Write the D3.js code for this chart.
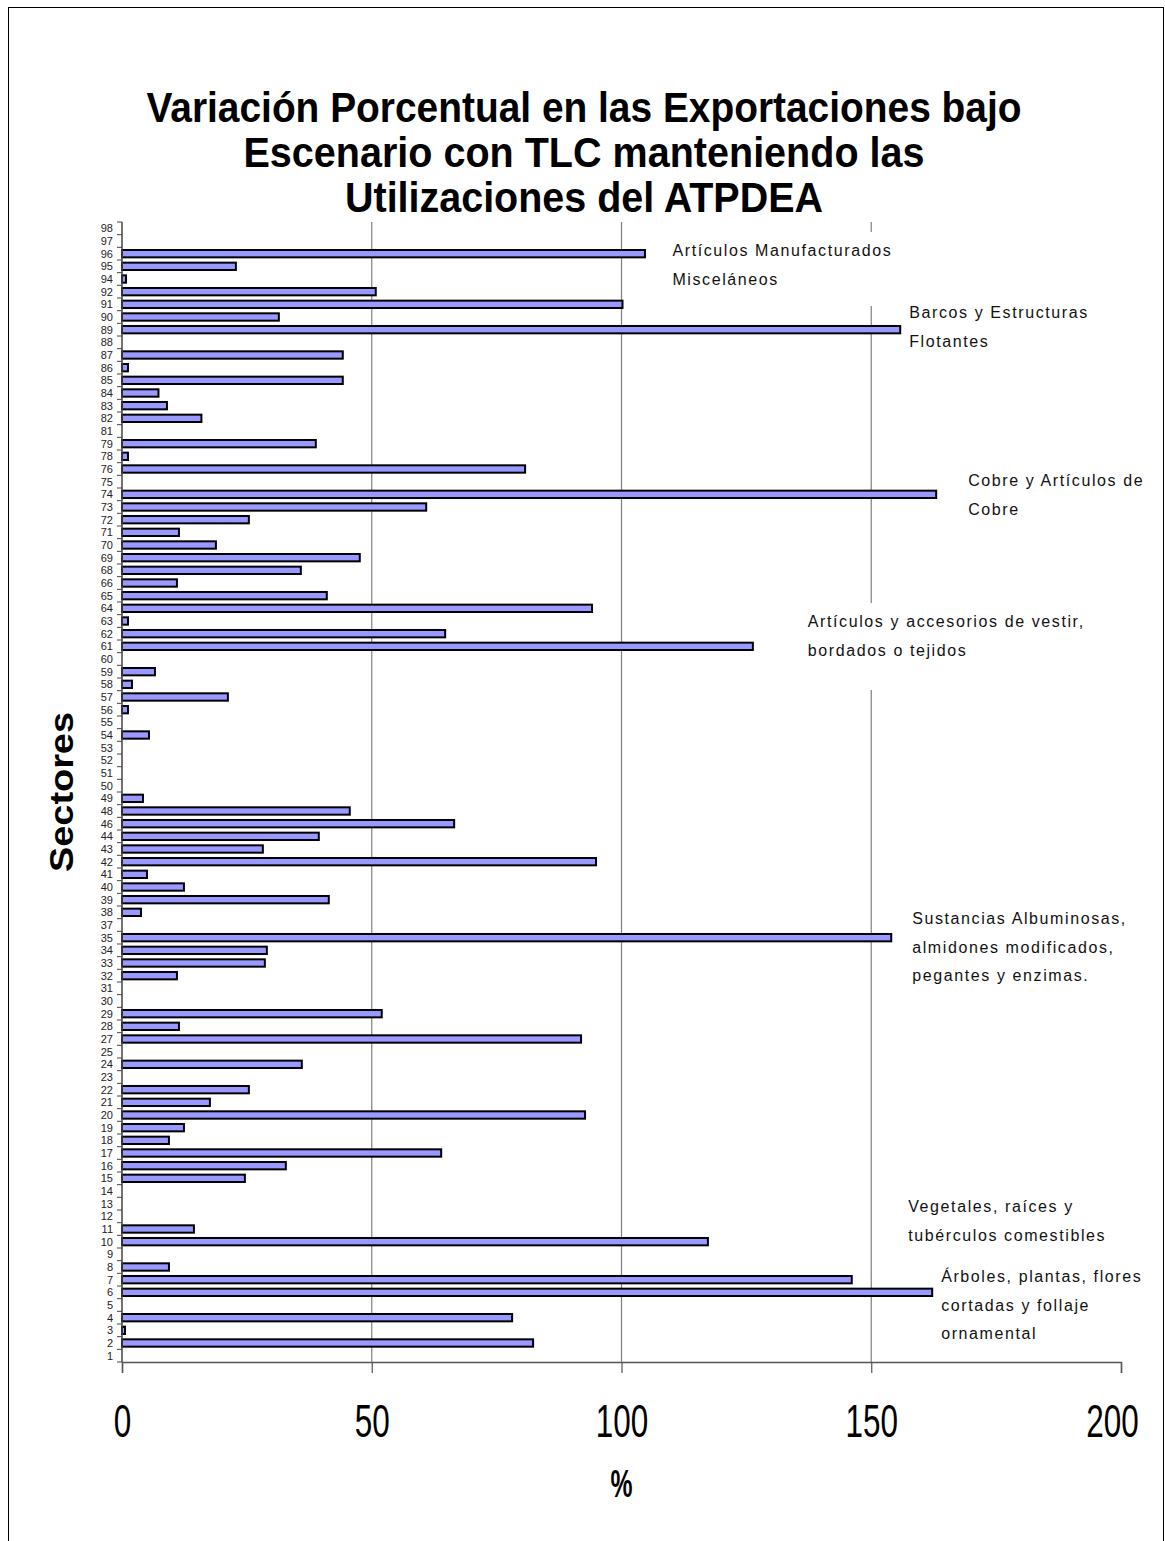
<!DOCTYPE html>
<html>
<head>
<meta charset="utf-8">
<script src="https://cdn.jsdelivr.net/npm/d3@7"></script>
<style>
  body { margin: 0; background: #fff; }
  svg { display: block; }
</style>
</head>
<body>
<svg id="chart" width="1165" height="1541"></svg>
<script>
// Sector codes, listed from the top of the axis to the bottom
const sectors = [98,97,96,95,94,92,91,90,89,88,87,86,85,84,83,82,81,79,78,76,75,74,73,72,71,70,69,68,66,65,64,63,62,61,60,59,58,57,56,55,54,53,52,51,50,49,48,46,44,43,42,41,40,39,38,37,35,34,33,32,31,30,29,28,27,25,24,23,22,21,20,19,18,17,16,15,14,13,12,11,10,9,8,7,6,5,4,3,2,1];

// Percentage change in exports for each sector (same order as sectors)
const values = [0,0,104.7,22.8,0.8,50.8,100.2,31.4,155.8,0,44.2,1.2,44.2,7.3,9.0,15.9,0,38.8,1.2,80.7,0,163.0,60.9,25.4,11.4,18.8,47.6,35.8,11.0,41.0,94.1,1.2,64.7,126.3,0,6.6,2.0,21.2,1.2,0,5.4,0,0,0,0,4.2,45.6,66.5,39.4,28.2,94.9,5.0,12.4,41.4,3.8,0,154.0,29.0,28.6,11.0,0,0,52.0,11.4,91.9,0,36.0,0,25.4,17.6,92.7,12.4,9.4,63.9,32.8,24.6,0,0,0,14.4,117.3,0,9.4,146.1,162.2,0,78.1,0.6,82.3,0];

const xTicks = [0, 50, 100, 150, 200];
const gridValues = [50, 100, 150];

const titleLines = [
  "Variación Porcentual en las Exportaciones bajo",
  "Escenario con TLC manteniendo las",
  "Utilizaciones del ATPDEA"
];
const xTitle = "%";
const yTitle = "Sectores";

// Callout texts naming the sectors with the largest changes
const callouts = [
  ["Artículos Manufacturados", "Misceláneos"],
  ["Barcos y Estructuras", "Flotantes"],
  ["Cobre y Artículos de", "Cobre"],
  ["Artículos y accesorios de vestir,", "bordados o tejidos"],
  ["Sustancias Albuminosas,", "almidones modificados,", "pegantes y enzimas."],
  ["Vegetales, raíces y", "tubérculos comestibles"],
  ["Árboles, plantas, flores", "cortadas y follaje", "ornamental"]
];

const svg = d3.select("#chart");
const H = 1541;
const plot = { left: 122, right: 1121, top: 222, bottom: 1362 };
const narrow = "'Liberation Sans Narrow', 'Arial Narrow', 'Liberation Sans', Arial, sans-serif";
const sans = "'Liberation Sans', Arial, sans-serif";

// Outer frame
svg.append("rect")
  .attr("x", 8.5).attr("y", 7.5)
  .attr("width", 1155).attr("height", H)
  .attr("fill", "#fff").attr("stroke", "#000").attr("stroke-width", 1);

const x = d3.scaleLinear().domain([0, 200]).range([plot.left, plot.right]);
const y = d3.scaleBand().domain(sectors).range([plot.top, plot.bottom]).paddingInner(0.42).paddingOuter(0.21);

// Title
const titleWidths = [875, 681, 478];
svg.append("g").selectAll("text").data(titleLines).join("text")
  .attr("x", 584)
  .attr("y", (d, i) => 122 + i * 45)
  .attr("text-anchor", "middle")
  .attr("font-family", narrow)
  .attr("font-weight", "bold")
  .attr("font-size", 43)
  .attr("textLength", (d, i) => titleWidths[i])
  .attr("lengthAdjust", "spacingAndGlyphs")
  .attr("fill", "#000")
  .text(d => d);

// Vertical gridlines
svg.append("g").selectAll("line").data(gridValues).join("line")
  .attr("x1", d => x(d)).attr("x2", d => x(d))
  .attr("y1", plot.top).attr("y2", plot.bottom)
  .attr("stroke", "#7f7f7f").attr("stroke-width", 1.2);

// Bars
const rows = sectors.map((s, i) => ({ sector: s, value: values[i] })).filter(d => d.value > 0);
svg.append("g").selectAll("rect").data(rows).join("rect")
  .attr("x", x(0))
  .attr("y", d => y(d.sector))
  .attr("width", d => x(d.value) - x(0))
  .attr("height", y.bandwidth())
  .attr("fill", "#9999ff")
  .attr("stroke", "#000")
  .attr("stroke-width", 2);

// Category axis: labels centred on each band, ticks between bands
const yAxis = svg.append("g");
yAxis.append("line")
  .attr("x1", plot.left).attr("x2", plot.left)
  .attr("y1", plot.top).attr("y2", plot.bottom)
  .attr("stroke", "#444").attr("stroke-width", 1.5);
const boundaries = sectors.map(s => y(s) - y.step() * y.paddingInner() / 2);
boundaries.push(plot.bottom);
yAxis.selectAll("line.tick").data(boundaries).join("line")
  .attr("class", "tick")
  .attr("x1", plot.left - 5).attr("x2", plot.left)
  .attr("y1", d => d).attr("y2", d => d)
  .attr("stroke", "#444").attr("stroke-width", 1);
yAxis.selectAll("text").data(sectors).join("text")
  .attr("x", plot.left - 9)
  .attr("y", d => y(d) + y.bandwidth() / 2)
  .attr("dy", "0.36em")
  .attr("text-anchor", "end")
  .attr("font-family", narrow)
  .attr("font-size", 11)
  .attr("fill", "#222")
  .text(d => d);

// Value axis
const xAxis = d3.axisBottom(x).tickValues(xTicks).tickSize(11).tickFormat(d3.format("d"));
const gx = svg.append("g").attr("transform", `translate(0,${plot.bottom})`).call(xAxis);
gx.select(".domain").attr("stroke", "#555").attr("stroke-width", 1.5);
gx.selectAll(".tick line").attr("stroke", "#555").attr("stroke-width", 1.2);
gx.selectAll(".tick text")
  .attr("y", 75)
  .attr("dy", 0)
  .attr("x", d => (d === xTicks[xTicks.length - 1] ? -9 : 0))
  .attr("font-family", narrow)
  .attr("font-size", 46)
  .attr("fill", "#000")
  .attr("textLength", d => String(d).length * 17.5)
  .attr("lengthAdjust", "spacingAndGlyphs");

// Axis titles
svg.append("text")
  .attr("x", x(100)).attr("y", 1497)
  .attr("text-anchor", "middle")
  .attr("font-family", narrow).attr("font-weight", "bold")
  .attr("font-size", 38)
  .attr("textLength", 22).attr("lengthAdjust", "spacingAndGlyphs")
  .text(xTitle);

svg.append("text")
  .attr("transform", "translate(73,792) rotate(-90)")
  .attr("text-anchor", "middle")
  .attr("font-family", sans).attr("font-weight", "bold")
  .attr("font-size", 34)
  .attr("textLength", 160).attr("lengthAdjust", "spacingAndGlyphs")
  .text(yTitle);

// Callouts: left edge in % units, first baseline in px, white backing box or null
const calloutLayout = [
  { at: 110.2, top: 256, box: [660, 232, 242, 74] },
  { at: 157.6, top: 318, box: null },
  { at: 169.4, top: 486, box: null },
  { at: 137.3, top: 627, box: [800, 603, 290, 87] },
  { at: 158.2, top: 924, box: null },
  { at: 157.4, top: 1212, box: null },
  { at: 164.0, top: 1282, box: null }
];
const lineGap = 28.6;
const cg = svg.append("g");
callouts.forEach((lines, i) => {
  const L = calloutLayout[i];
  if (L.box) {
    cg.append("rect")
      .attr("x", L.box[0]).attr("y", L.box[1])
      .attr("width", L.box[2]).attr("height", L.box[3])
      .attr("fill", "#fff");
  }
  cg.append("g").selectAll("text").data(lines).join("text")
    .attr("x", x(L.at))
    .attr("y", (d, j) => L.top + j * lineGap)
    .attr("font-family", narrow)
    .attr("font-size", 16)
    .attr("letter-spacing", 1.6)
    .attr("fill", "#111")
    .text(d => d);
});
</script>
</body>
</html>
